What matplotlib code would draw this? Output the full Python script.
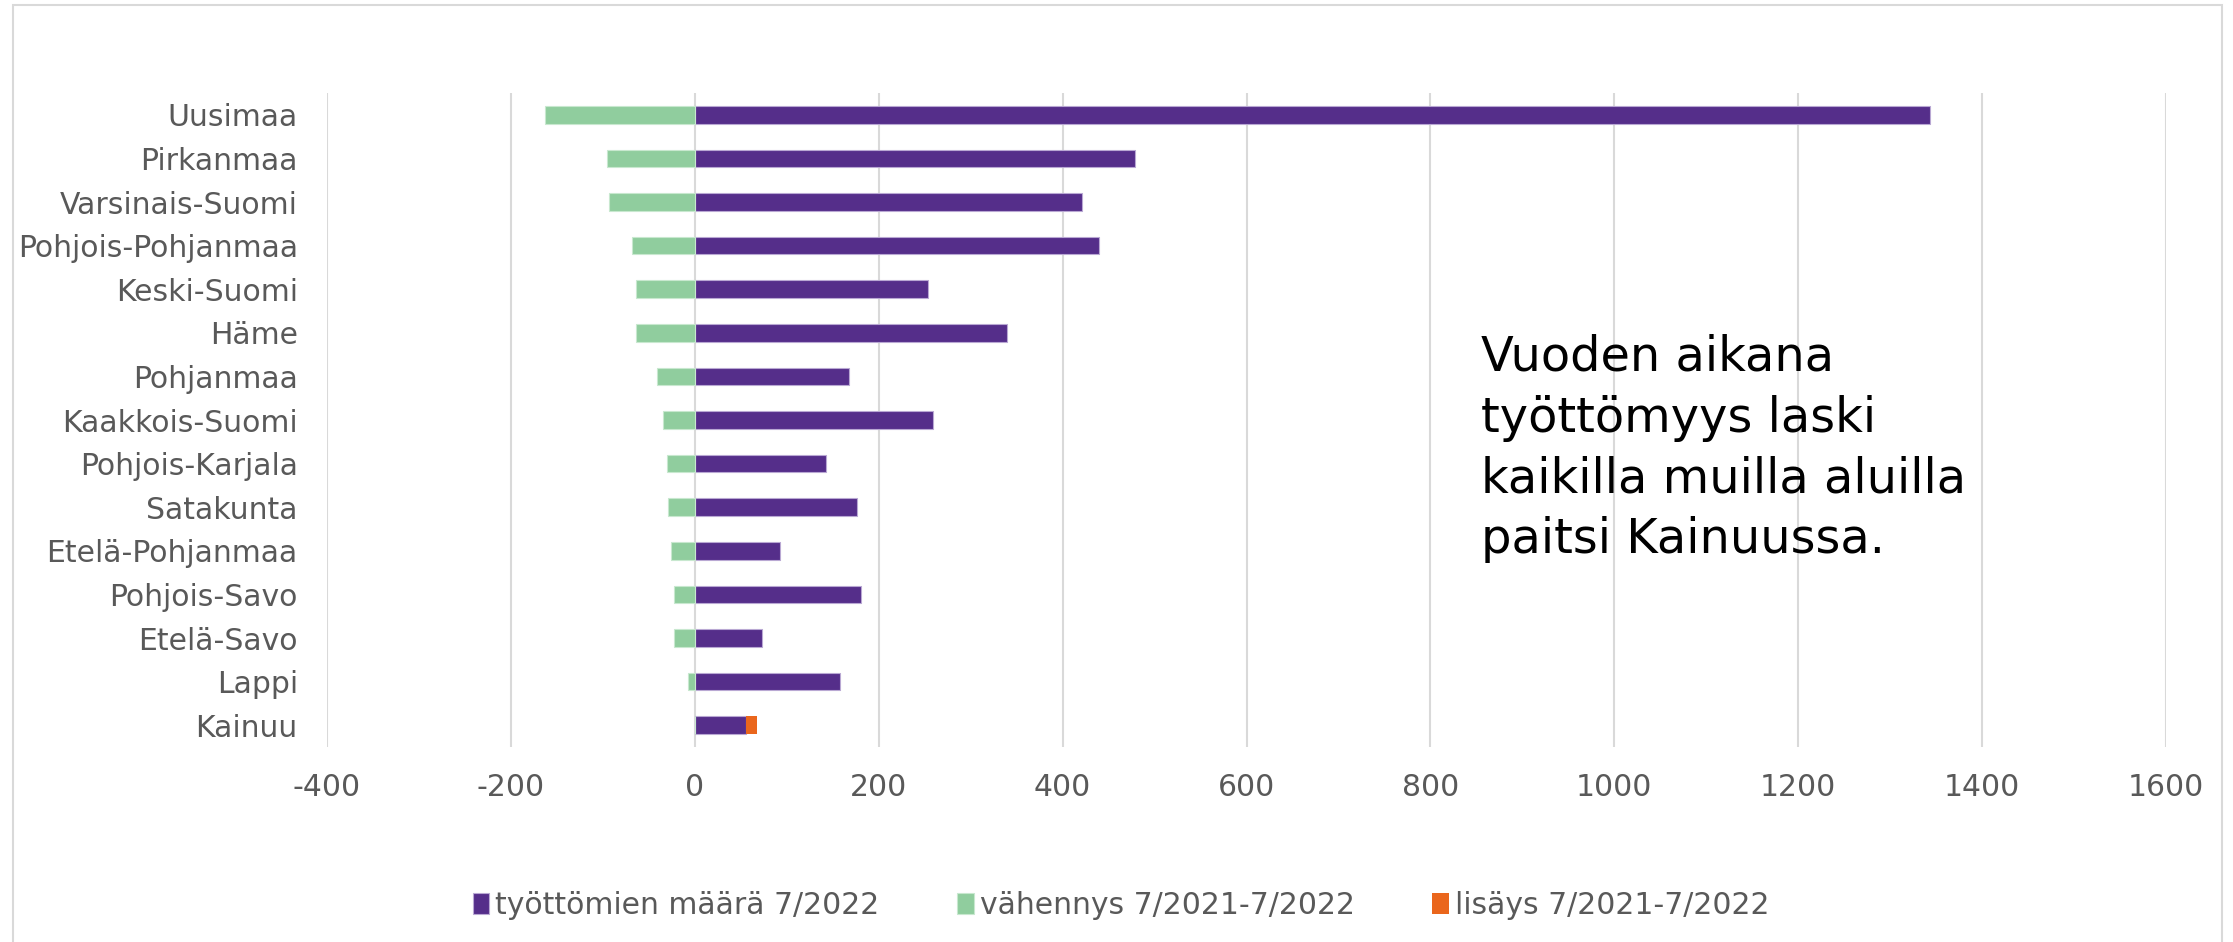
import numpy as np
import matplotlib.pyplot as plt
from matplotlib.patches import Rectangle

# data
regions = ['Uusimaa', 'Pirkanmaa', 'Varsinais-Suomi', 'Pohjois-Pohjanmaa', 'Keski-Suomi',
           'Häme', 'Pohjanmaa', 'Kaakkois-Suomi', 'Pohjois-Karjala', 'Satakunta',
           'Etelä-Pohjanmaa', 'Pohjois-Savo', 'Etelä-Savo', 'Lappi', 'Kainuu']
tyottomat = [1343, 479, 421, 440, 254, 339, 168, 259, 143, 176, 93, 181, 73, 158, 56]
vahennys = [-163, -95, -93, -68, -64, -64, -41, -35, -30, -29, -26, -23, -23, -7, 0]
lisays = [0, 0, 0, 0, 0, 0, 0, 0, 0, 0, 0, 0, 0, 0, 12]
xticks = [-400, -200, 0, 200, 400, 600, 800, 1000, 1200, 1400, 1600]

purple = '#552E8A'
green = '#90CD9E'
orange = '#EA661C'
gray = '#595959'
gridc = '#D9D9D9'

plt.rcParams['font.family'] = 'DejaVu Sans'

fig = plt.figure(figsize=(22.33, 9.42), dpi=100)
ax = fig.add_axes([327 / 2233, 1 - 747 / 942, (2166 - 327) / 2233, (747 - 93) / 942])

y = np.arange(len(regions))
h = 0.4
ax.barh(y, tyottomat, height=h, color=purple, edgecolor='#B9A8D3', linewidth=0.8,
        label='työttömien määrä 7/2022', zorder=3)
ax.barh(y, vahennys, height=h, color=green, edgecolor='#C8E8CF', linewidth=0.8,
        label='vähennys 7/2021-7/2022', zorder=3)
ax.barh(y, lisays, left=tyottomat, height=h, color=orange, linewidth=0,
        label='lisäys 7/2021-7/2022', zorder=3)

ax.set_xlim(-400, 1600)
ax.set_ylim(len(regions) - 0.5, -0.5)
ax.set_xticks(xticks)
ax.set_xticklabels([str(v) for v in xticks])
ax.set_yticks(y)
ax.set_yticklabels(regions)
ax.tick_params(axis='both', length=0, labelsize=21.5, labelcolor=gray)
ax.tick_params(axis='x', pad=19)
ax.tick_params(axis='y', pad=21)
ax.grid(axis='x', color=gridc, linewidth=1.5, zorder=0)
for s in ax.spines.values():
    s.set_visible(False)

fig.text(1481 / 2233, 1 - 334 / 942,
         'Vuoden aikana\ntyöttömyys laski\nkaikilla muilla aluilla\npaitsi Kainuussa.',
         fontsize=34.5, color='black', va='top', ha='left', linespacing=1.37)

fig.legend(loc='center', bbox_to_anchor=(0.502, 1 - 905 / 942), ncol=3, frameon=False,
           fontsize=21.5, labelcolor=gray, handlelength=0.55, handleheight=0.7,
           handletextpad=0.2, columnspacing=2.6)

fig.patches.append(Rectangle((13 / 2233, -0.01), (2222 - 13) / 2233, 1 - 5 / 942 + 0.01,
                             transform=fig.transFigure, fill=False, edgecolor=gridc,
                             linewidth=1.5))

plt.savefig('out.png', dpi=100)
